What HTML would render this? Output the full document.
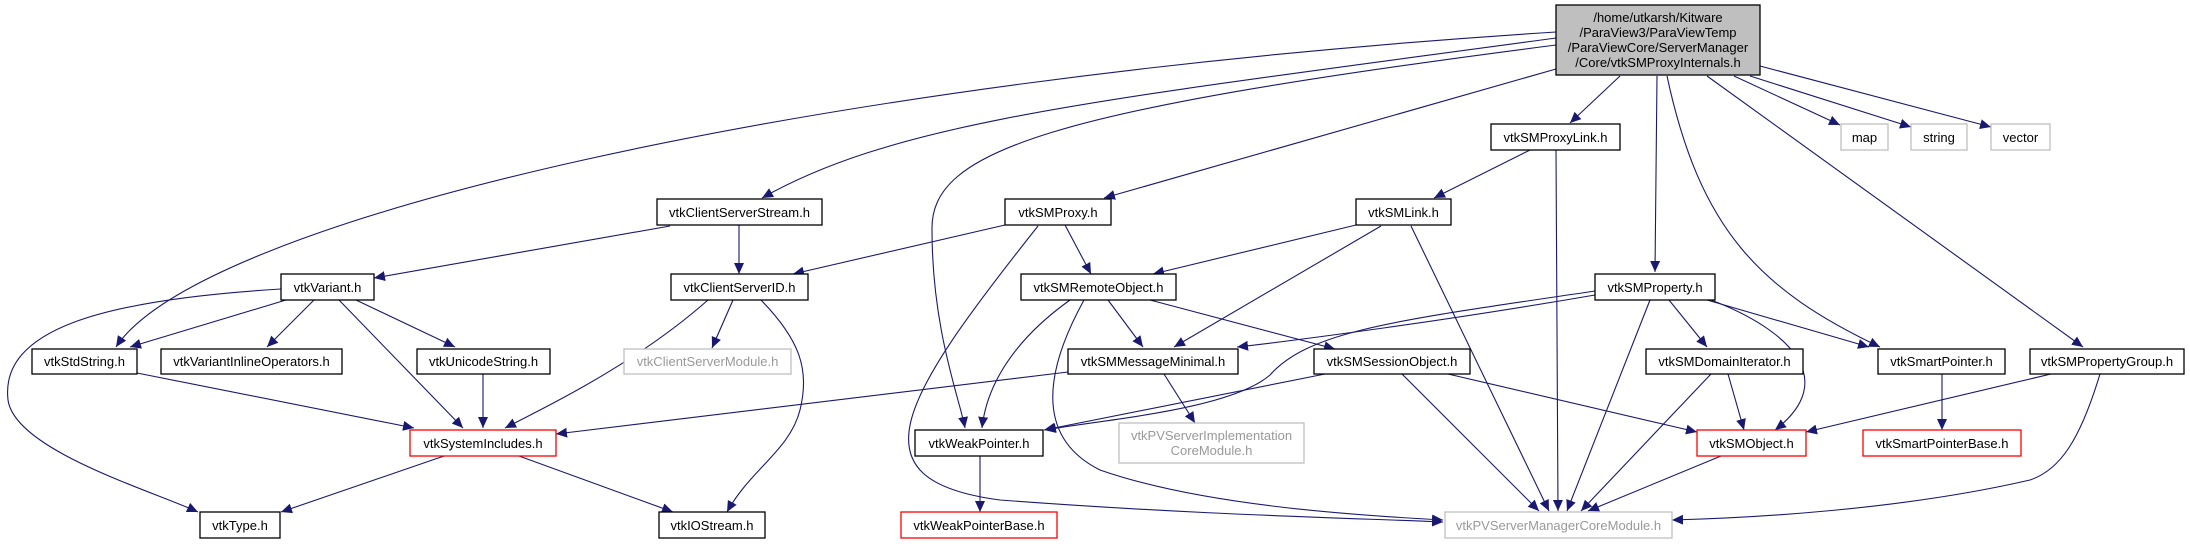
<!DOCTYPE html>
<html><head><meta charset="utf-8"><style>
html,body{margin:0;padding:0;background:#fff;}
svg{display:block;}
text{font-family:"Liberation Sans",sans-serif;font-size:13px;fill:#000;}
.e{fill:none;stroke:#191970;stroke-width:1.1;}
</style></head><body>
<svg width="2190" height="544" viewBox="0 0 2190 544" xmlns="http://www.w3.org/2000/svg">
<defs><marker id="a" markerUnits="userSpaceOnUse" markerWidth="12" markerHeight="10" refX="11" refY="5" orient="auto"><path d="M0,0 L11,5 L0,10 z" fill="#191970"/></marker></defs>
<g class="e" marker-end="url(#a)">
<path d="M1556,32 C800,80 200,220 116,347"/>
<path d="M1556,38 C1100,100 900,120 762,198"/>
<path d="M1556,45 C1050,110 930,150 932,230 C932,330 960,400 965,428"/>
<path d="M1556,69 L1104,198"/>
<path d="M1620,76 L1570,123"/>
<path d="M1657,76 L1655,272"/>
<path d="M1667,76 C1700,230 1760,290 1880,347"/>
<path d="M1707,76 L2083,347"/>
<path d="M1734,76 L1840,125"/>
<path d="M1750,76 L1911,127"/>
<path d="M1760,66 L1991,127"/>
<path d="M670,226 L374,278"/>
<path d="M739,225 L739,274"/>
<path d="M1005,225 L793,274"/>
<path d="M1065,225 L1091,274"/>
<path d="M1038,226 C900,400 850,480 1000,500 C1200,515 1350,518 1443,522"/>
<path d="M1530,150 L1434,198"/>
<path d="M1556,150 L1558,511"/>
<path d="M1356,225 L1153,274"/>
<path d="M1381,226 L1174,347"/>
<path d="M1411,226 L1549,511"/>
<path d="M286,300 L130,347"/>
<path d="M314,300 L267,347"/>
<path d="M339,300 L463,428"/>
<path d="M356,300 L455,347"/>
<path d="M281,289 C100,300 0,330 8,400 C15,450 150,490 198,512"/>
<path d="M708,300 C640,360 560,400 505,428"/>
<path d="M733,300 L712,348"/>
<path d="M761,300 C800,340 810,370 800,410 C790,450 750,470 727,512"/>
<path d="M137,373 L414,428"/>
<path d="M483,374 L483,428"/>
<path d="M1068,372 L556,434"/>
<path d="M444,456 L281,512"/>
<path d="M519,456 L673,512"/>
<path d="M980,456 L980,512"/>
<path d="M1070,300 C1000,350 985,400 982,428"/>
<path d="M1108,300 L1143,347"/>
<path d="M1150,300 L1335,349"/>
<path d="M1084,300 C1040,380 1040,440 1100,470 C1200,505 1350,515 1443,520"/>
<path d="M1325,374 L1044,430"/>
<path d="M1448,374 L1697,432"/>
<path d="M1402,374 L1539,511"/>
<path d="M1164,374 L1195,423"/>
<path d="M1595,295 C1450,320 1300,340 1237,347"/>
<path d="M1595,291 C1400,320 1310,330 1270,375 C1230,410 1100,420 1045,430"/>
<path d="M1669,300 L1707,347"/>
<path d="M1707,300 L1869,347"/>
<path d="M1711,300 C1790,330 1840,380 1775,430"/>
<path d="M1650,300 L1567,511"/>
<path d="M1728,374 L1744,430"/>
<path d="M1711,374 L1581,511"/>
<path d="M1942,374 L1942,430"/>
<path d="M2051,374 L1806,432"/>
<path d="M2100,374 C2080,440 2060,470 2030,480 C1900,510 1750,518 1672,520"/>
<path d="M1721,456 L1588,511"/>
</g>
<g stroke-width="1.3" fill="#fff">
<rect x="1556" y="5" width="204" height="70" fill="#bfbfbf" stroke="#000"/>
<rect x="657" y="199" width="165" height="26" stroke="#000"/>
<rect x="1005" y="199" width="106" height="26" stroke="#000"/>
<rect x="1491" y="124" width="129" height="26" stroke="#000"/>
<rect x="1356" y="199" width="95" height="26" stroke="#000"/>
<rect x="1841" y="124" width="47" height="26" stroke="#bfbfbf"/>
<rect x="1911" y="124" width="56" height="26" stroke="#bfbfbf"/>
<rect x="1991" y="124" width="59" height="26" stroke="#bfbfbf"/>
<rect x="281" y="274" width="93" height="26" stroke="#000"/>
<rect x="671" y="274" width="137" height="26" stroke="#000"/>
<rect x="1021" y="274" width="155" height="26" stroke="#000"/>
<rect x="1595" y="274" width="120" height="26" stroke="#000"/>
<rect x="32" y="349" width="105" height="25" stroke="#000"/>
<rect x="161" y="349" width="181" height="25" stroke="#000"/>
<rect x="417" y="349" width="133" height="25" stroke="#000"/>
<rect x="624" y="349" width="167" height="25" stroke="#bfbfbf"/>
<rect x="1068" y="349" width="170" height="25" stroke="#000"/>
<rect x="1314" y="349" width="156" height="25" stroke="#000"/>
<rect x="1646" y="349" width="157" height="25" stroke="#000"/>
<rect x="1878" y="349" width="127" height="25" stroke="#000"/>
<rect x="2030" y="349" width="154" height="25" stroke="#000"/>
<rect x="410" y="430" width="146" height="26" stroke="#ff0000"/>
<rect x="915" y="430" width="128" height="26" stroke="#000"/>
<rect x="1119" y="423" width="185" height="40" stroke="#bfbfbf"/>
<rect x="1697" y="430" width="109" height="26" stroke="#ff0000"/>
<rect x="1863" y="430" width="158" height="26" stroke="#ff0000"/>
<rect x="200" y="512" width="80" height="26" stroke="#000"/>
<rect x="659" y="512" width="106" height="26" stroke="#000"/>
<rect x="901" y="512" width="156" height="26" stroke="#ff0000"/>
<rect x="1445" y="512" width="227" height="26" stroke="#bfbfbf"/>
</g>
<g text-anchor="middle">
<text x="1658" y="22">/home/utkarsh/Kitware</text>
<text x="1658" y="37">/ParaView3/ParaViewTemp</text>
<text x="1658" y="52">/ParaViewCore/ServerManager</text>
<text x="1658" y="67">/Core/vtkSMProxyInternals.h</text>
<text x="739.5" y="217">vtkClientServerStream.h</text>
<text x="1058" y="217">vtkSMProxy.h</text>
<text x="1555.5" y="142">vtkSMProxyLink.h</text>
<text x="1403.5" y="217">vtkSMLink.h</text>
<text x="1864.5" y="142">map</text>
<text x="1939" y="142">string</text>
<text x="2020.5" y="142">vector</text>
<text x="327.5" y="292">vtkVariant.h</text>
<text x="739.5" y="292">vtkClientServerID.h</text>
<text x="1098.5" y="292">vtkSMRemoteObject.h</text>
<text x="1655" y="292">vtkSMProperty.h</text>
<text x="84.5" y="366">vtkStdString.h</text>
<text x="251.5" y="366">vtkVariantInlineOperators.h</text>
<text x="483.5" y="366">vtkUnicodeString.h</text>
<text x="707.5" y="366" style="fill:#999">vtkClientServerModule.h</text>
<text x="1153" y="366">vtkSMMessageMinimal.h</text>
<text x="1392" y="366">vtkSMSessionObject.h</text>
<text x="1724.5" y="366">vtkSMDomainIterator.h</text>
<text x="1941.5" y="366">vtkSmartPointer.h</text>
<text x="2107" y="366">vtkSMPropertyGroup.h</text>
<text x="483" y="448">vtkSystemIncludes.h</text>
<text x="979" y="448">vtkWeakPointer.h</text>
<text x="1211.5" y="440" style="fill:#999">vtkPVServerImplementation</text>
<text x="1211.5" y="455" style="fill:#999">CoreModule.h</text>
<text x="1751.5" y="448">vtkSMObject.h</text>
<text x="1942" y="448">vtkSmartPointerBase.h</text>
<text x="240" y="530">vtkType.h</text>
<text x="712" y="530">vtkIOStream.h</text>
<text x="979" y="530">vtkWeakPointerBase.h</text>
<text x="1558.5" y="530" style="fill:#999">vtkPVServerManagerCoreModule.h</text>
</g>
</svg>
</body></html>
